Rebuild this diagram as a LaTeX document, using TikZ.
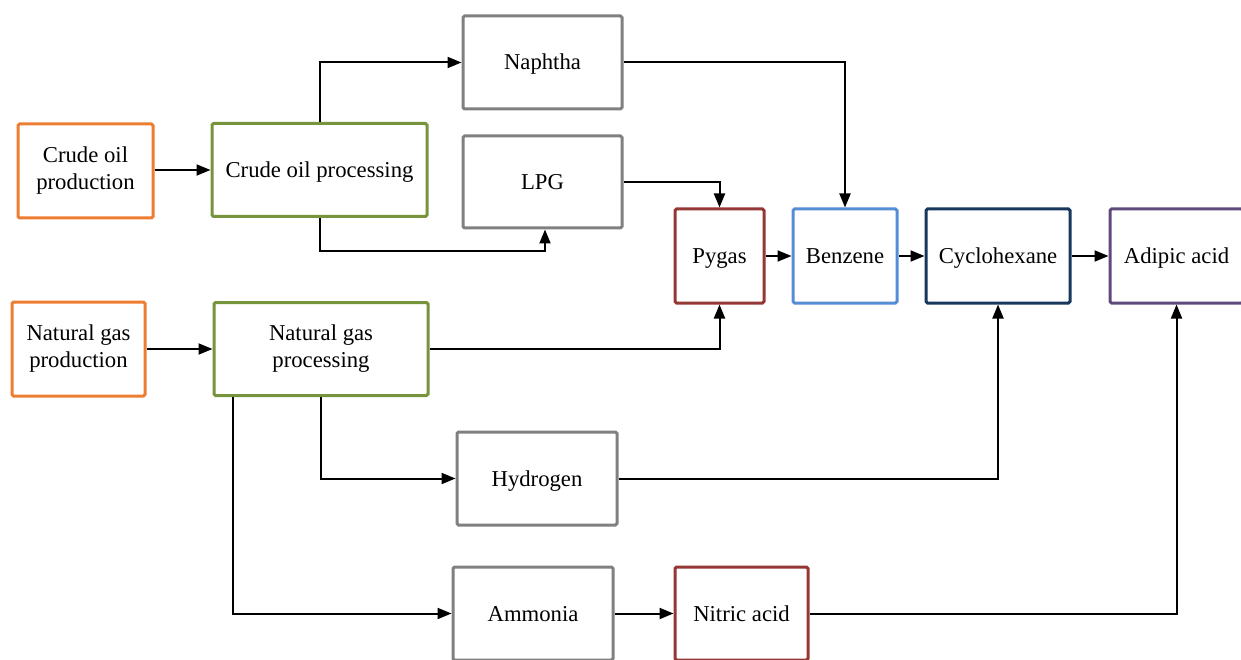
\documentclass[tikz,border=0pt]{standalone}
\usepackage{fontspec}
\setmainfont{Liberation Serif}
\usetikzlibrary{arrows.meta}
\definecolor{prodorange}{HTML}{ED7D31}
\definecolor{procgreen}{HTML}{77933C}
\definecolor{midgray}{HTML}{808080}
\definecolor{darkred}{HTML}{953735}
\definecolor{skyblue}{HTML}{558ED5}
\definecolor{navy}{HTML}{17375E}
\definecolor{plum}{HTML}{604A7B}
\begin{document}
\begin{tikzpicture}[x=1pt,y=-1pt,
  box/.style={draw=#1, line width=3pt, rounded corners=1.5pt, fill=white,
    align=center, inner sep=0pt, text=black,
    font=\fontsize{22.7}{27}\selectfont},
  oneline/.style={text height=17pt, text depth=2pt},
  flow/.style={line width=2pt, -{Triangle[length=14pt,width=11pt]}}]
\useasboundingbox (0,0) rectangle (1241,660);
\clip (0,0) rectangle (1241,660);

% crude oil chain
\node[box=prodorange, minimum width=135pt, minimum height=94pt] (cop) at (85.5,171) {Crude oil\\production};
\node[box=procgreen, oneline, minimum width=215pt, minimum height=93pt] (coproc) at (319.5,170) {Crude oil processing};
\node[box=midgray, oneline, minimum width=159pt, minimum height=93pt] (naph) at (542.5,62.5) {Naphtha};
\node[box=midgray, oneline, minimum width=159pt, minimum height=92pt] (lpg) at (542.5,182) {LPG};

% main product line
\node[box=darkred, oneline, minimum width=89pt, minimum height=94pt] (pygas) at (719.5,256) {Pygas};
\node[box=skyblue, oneline, minimum width=104pt, minimum height=94pt] (benz) at (845,256) {Benzene};
\node[box=navy, oneline, minimum width=144pt, minimum height=94pt] (cyc) at (998,256) {Cyclohexane};
\node[box=plum, oneline, minimum width=133pt, minimum height=94pt] (adip) at (1176.5,256) {Adipic acid};

% natural gas chain
\node[box=prodorange, minimum width=133pt, minimum height=94pt] (ngp) at (78.5,349) {Natural gas\\production};
\node[box=procgreen, minimum width=214pt, minimum height=93pt] (ngproc) at (321,349) {Natural gas\\processing};
\node[box=midgray, oneline, minimum width=160pt, minimum height=93pt] (hyd) at (537,478.5) {Hydrogen};
\node[box=midgray, oneline, minimum width=160pt, minimum height=93pt] (amm) at (533,613.5) {Ammonia};
\node[box=darkred, oneline, minimum width=133pt, minimum height=93pt] (nit) at (741.5,613.5) {Nitric acid};

% connectors
\draw[flow] (cop.east |- coproc.west) -- (coproc.west);
\draw[flow] (coproc.north) |- (naph);
\draw[flow] (coproc.south) -- ++(0,33) -| ([xshift=2.5pt]lpg.south);
\draw[flow] (lpg.east) -| (pygas);
\draw[flow] (naph.east) -| (benz);
\draw[flow] (pygas) -- (benz);
\draw[flow] (benz) -- (cyc);
\draw[flow] (cyc) -- (adip);
\draw[flow] (ngp.east) -- (ngproc.west |- ngp.east);
\draw[flow] (ngproc.east) -| (pygas);
\draw[flow] (ngproc.south) |- (hyd);
\draw[flow] ([xshift=-88pt]ngproc.south) |- (amm);
\draw[flow] (hyd.east) -| (cyc);
\draw[flow] (amm) -- (nit);
\draw[flow] (nit.east) -| (adip);
\end{tikzpicture}
\end{document}
